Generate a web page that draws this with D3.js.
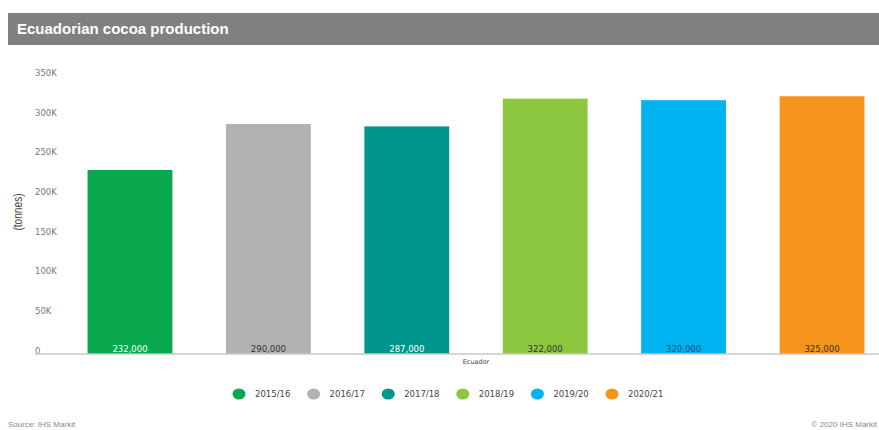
<!DOCTYPE html>
<html><head><meta charset="utf-8">
<script src="https://cdn.jsdelivr.net/npm/d3@7"></script>
<style>body{margin:0;background:#fff;}svg{display:block;}</style>
</head><body>
<script>
const categories = ["Ecuador"];
const seasons = ["2015/16", "2016/17", "2017/18", "2018/19", "2019/20", "2020/21"];
const production = [232000, 290000, 287000, 322000, 320000, 325000];
const colors = ["#0aa84e", "#b2b2b4", "#00958f", "#8dc63f", "#00b2ef", "#f7941d"];
const labelColors = ["#ffffff", "#333333", "#ffffff", "#333333", "#1f4f8a", "#333333"];
const yTicks = [0, 50000, 100000, 150000, 200000, 250000, 300000, 350000];

const W = 879, H = 430;
const svg = d3.select("body").append("svg").attr("width", W).attr("height", H);

// title bar
svg.append("rect").attr("x", 8).attr("y", 13).attr("width", W).attr("height", 32).attr("fill", "#808080");
svg.append("text").attr("x", 17).attr("y", 34).attr("fill", "#fff")
  .style("font-family", "Liberation Sans, Arial, sans-serif").style("font-weight", "bold").style("font-size", "15px")
  .text("Ecuadorian cocoa production");

const y = d3.scaleLinear().domain([0, 350000]).range([354, 76.4]);
const x0 = d3.scaleBand().domain(categories).range([34, 918]);
const x1 = d3.scaleBand().domain(seasons).range([x0(categories[0]), x0(categories[0]) + x0.bandwidth()]).padding(0.387);

// y axis labels
const yAxis = d3.axisLeft(y).tickValues(yTicks).tickSize(0).tickFormat(d => d === 0 ? "0" : (d / 1000) + "K");
const gy = svg.append("g").attr("transform", "translate(35,0)").call(yAxis);
gy.select(".domain").remove();
gy.selectAll("text").attr("x", 0).attr("dy", "-0.1em").attr("text-anchor", "start")
  .attr("fill", "#777").style("font-family", "DejaVu Sans, sans-serif").style("font-size", "8.5px");

svg.append("text").attr("transform", "translate(22,212) rotate(-90) scale(0.78,1)").attr("text-anchor", "middle")
  .attr("fill", "#444").style("font-family", "Liberation Sans, Arial, sans-serif").style("font-size", "13px")
  .text("(tonnes)");

// bars
const bars = svg.append("g");
seasons.forEach((s, i) => {
  bars.append("rect").attr("x", x1(s)).attr("y", y(production[i]))
    .attr("width", x1.bandwidth()).attr("height", y(0) - y(production[i])).attr("fill", colors[i]);
  bars.append("text").attr("x", x1(s) + x1.bandwidth() / 2).attr("y", y(0) - 2).attr("text-anchor", "middle")
    .attr("fill", labelColors[i]).style("font-family", "DejaVu Sans, sans-serif").style("font-size", "8.5px")
    .text(d3.format(",")(production[i]));
});

// x axis
const xAxis = d3.axisBottom(x0).tickSize(0);
const gx = svg.append("g").attr("transform", "translate(0,354)").call(xAxis);
gx.select(".domain").attr("stroke", "#c8c8c8").attr("stroke-width", 1.3).attr("d", `M35,0H${W}`);
gx.selectAll("text").attr("y", 8).attr("dy", "0.35em").attr("fill", "#444")
  .style("font-family", "DejaVu Sans, sans-serif").style("font-size", "6.5px");

// legend
const leg = svg.append("g").attr("transform", "translate(239,394)");
seasons.forEach((s, i) => {
  const g = leg.append("g").attr("transform", `translate(${i * 74.6},0)`);
  g.append("ellipse").attr("cx", 0).attr("cy", 0).attr("rx", 6.5).attr("ry", 5.5).attr("fill", colors[i]);
  g.append("text").attr("x", 16).attr("y", 0).attr("dy", "0.35em").attr("fill", "#444")
    .style("font-family", "DejaVu Sans, sans-serif").style("font-size", "8.5px").text(s);
});

// footer
svg.append("text").attr("x", 8).attr("y", 427).attr("fill", "#888")
  .style("font-family", "Liberation Sans, Arial, sans-serif").style("font-size", "8px").text("Source: IHS Markit");
svg.append("text").attr("x", 877).attr("y", 427).attr("text-anchor", "end").attr("fill", "#888")
  .style("font-family", "Liberation Sans, Arial, sans-serif").style("font-size", "8px").text("© 2020 IHS Markit");
</script>
</body></html>
